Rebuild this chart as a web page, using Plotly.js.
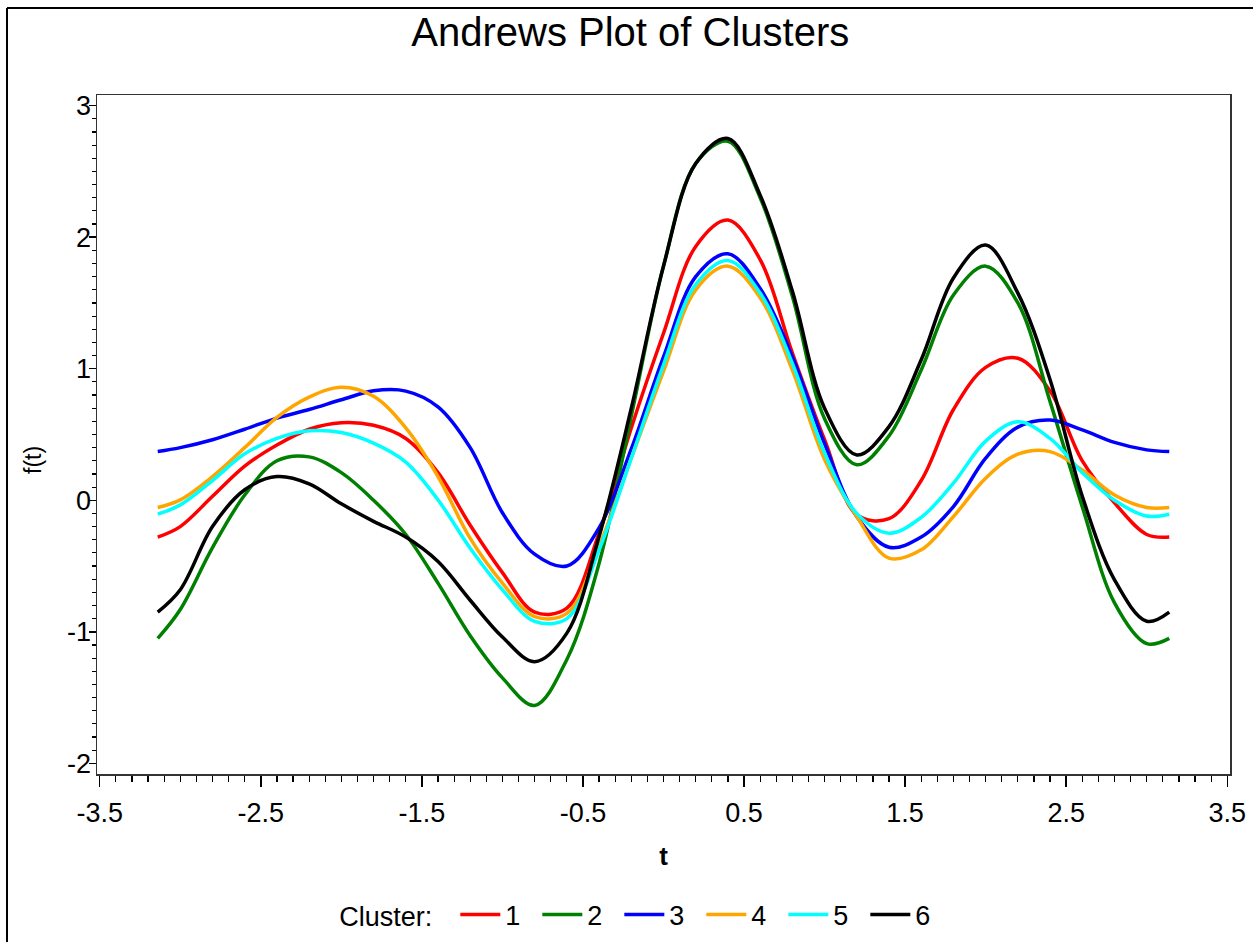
<!DOCTYPE html>
<html>
<head>
<meta charset="utf-8">
<script src="https://cdn.plot.ly/plotly-3.0.1.min.js"></script>
<style>
  html, body { margin: 0; padding: 0; background: #ffffff; }
  #chart { width: 1253px; height: 942px; }
</style>
</head>
<body>
<div id="chart"></div>
<script>
// ---- data ----
const tValues = [-3.14, -3.0, -2.8, -2.6, -2.4, -2.2, -2.0, -1.8, -1.6, -1.4, -1.2, -1.0, -0.8, -0.6, -0.4, -0.2,
                 0.0, 0.2, 0.4, 0.6, 0.8, 1.0, 1.2, 1.4, 1.6, 1.8, 2.0, 2.2, 2.4, 2.6, 2.8, 3.0, 3.14];

const cluster1 = [-0.28, -0.20, 0.03, 0.26, 0.42, 0.54, 0.59, 0.57, 0.47, 0.21, -0.19, -0.55, -0.85, -0.82, -0.25, 0.55,
                  1.27, 1.93, 2.13, 1.83, 1.12, 0.46, -0.11, -0.14, 0.15, 0.69, 1.01, 1.08, 0.83, 0.30, -0.02, -0.26, -0.28];
const cluster2 = [-1.05, -0.83, -0.36, 0.04, 0.30, 0.33, 0.21, 0.00, -0.26, -0.63, -1.03, -1.35, -1.56, -1.21, -0.48, 0.64,
                  1.78, 2.56, 2.73, 2.30, 1.55, 0.62, 0.27, 0.49, 0.99, 1.56, 1.78, 1.50, 0.75, -0.05, -0.78, -1.09, -1.05];
const cluster3 = [0.37, 0.40, 0.46, 0.54, 0.625, 0.69, 0.764, 0.832, 0.83, 0.71, 0.40, -0.095, -0.41, -0.50, -0.21, 0.39,
                  1.09, 1.70, 1.874, 1.61, 1.09, 0.43, -0.124, -0.357, -0.28, -0.048, 0.32, 0.556, 0.61, 0.535, 0.44, 0.383, 0.37];
const cluster4 = [-0.055, 0.003, 0.18, 0.40, 0.63, 0.784, 0.86, 0.79, 0.55, 0.18, -0.29, -0.63, -0.885, -0.86, -0.35, 0.32,
                  0.98, 1.60, 1.78, 1.54, 0.99, 0.31, -0.124, -0.44, -0.377, -0.124, 0.168, 0.35, 0.37, 0.23, 0.04, -0.055, -0.055];
const cluster5 = [-0.106, -0.035, 0.15, 0.353, 0.47, 0.528, 0.515, 0.434, 0.29, 0.003, -0.365, -0.68, -0.92, -0.90, -0.377, 0.32,
                  1.03, 1.64, 1.823, 1.575, 1.04, 0.36, -0.10, -0.25, -0.13, 0.13, 0.45, 0.596, 0.47, 0.21, 0.0, -0.12, -0.106];
const cluster6 = [-0.85, -0.68, -0.20, 0.08, 0.18, 0.125, -0.027, -0.16, -0.28, -0.466, -0.76, -1.04, -1.227, -1.01, -0.276, 0.70,
                  1.78, 2.56, 2.75, 2.32, 1.59, 0.70, 0.345, 0.56, 1.068, 1.69, 1.94, 1.575, 0.916, 0.03, -0.605, -0.92, -0.85];

const clusterNames = ["1", "2", "3", "4", "5", "6"];
const clusterColors = ["#FF0000", "#008000", "#0000FF", "#FFA500", "#00FFFF", "#000000"];
const clusterSeries = [cluster1, cluster2, cluster3, cluster4, cluster5, cluster6];

const xTickVals = [-3.5, -2.5, -1.5, -0.5, 0.5, 1.5, 2.5, 3.5];
const xTickText = ["-3.5", "-2.5", "-1.5", "-0.5", "0.5", "1.5", "2.5", "3.5"];
const yTickVals = [-2, -1, 0, 1, 2, 3];
const yTickText = ["-2", "-1", "0", "1", "2", "3"];

// ---- chart ----
const FONT = "Liberation Sans, Arial, sans-serif";

const traces = clusterSeries.map((ys, i) => ({
  type: "scatter",
  mode: "lines",
  x: tValues,
  y: ys,
  name: clusterNames[i],
  line: { color: clusterColors[i], width: 3.5, shape: "spline", smoothing: 1.0 }
}));

const W = 1253, H = 942;
const M = { l: 97, r: 23, t: 95, b: 168 };
const plotW = W - M.l - M.r, plotH = H - M.t - M.b;

const layout = {
  width: W, height: H,
  margin: M,
  paper_bgcolor: "#ffffff",
  plot_bgcolor: "#ffffff",
  font: { family: FONT, color: "#000000", size: 27 },
  showlegend: true,
  title: {
    text: "Andrews Plot of Clusters",
    font: { family: FONT, size: 40, color: "#000000" },
    xref: "container", x: 0.503, xanchor: "center",
    yref: "container", y: 1 - 32 / H, yanchor: "middle"
  },
  xaxis: {
    range: [-3.517, 3.517],
    tickmode: "array", tickvals: xTickVals, ticktext: xTickText,
    ticks: "outside", ticklen: 11, tickwidth: 1.5, tickcolor: "#000000",
    minor: { dtick: 0.1, tick0: -3.5, ticks: "outside", ticklen: 6, tickwidth: 1.2, tickcolor: "#000000", showgrid: false },
    ticklabelstandoff: 3,
    showgrid: false, zeroline: false,
    showline: true, linecolor: "#333333", linewidth: 1.5, mirror: true,
    tickfont: { family: FONT, size: 27, color: "#000000" },
    title: { text: "<b>t</b>", font: { family: FONT, size: 26, color: "#000000" }, standoff: 20 }
  },
  yaxis: {
    range: [-2.081, 3.081],
    tickmode: "array", tickvals: yTickVals, ticktext: yTickText,
    ticks: "outside", ticklen: 7, tickwidth: 1.5, tickcolor: "#000000",
    minor: { dtick: 0.1, tick0: 0, ticks: "outside", ticklen: 4, tickwidth: 1.2, tickcolor: "#000000", showgrid: false },
    ticklabelstandoff: -8,
    showgrid: false, zeroline: false,
    showline: true, linecolor: "#333333", linewidth: 1.5, mirror: true,
    tickfont: { family: FONT, size: 27, color: "#000000" }
  },
  annotations: [
    { text: "f(t)", textangle: -90, showarrow: false,
      xref: "paper", x: (33 - M.l) / plotW, xanchor: "center",
      yref: "paper", y: (H - M.b - 460) / plotH, yanchor: "middle",
      font: { family: FONT, size: 23, color: "#000000" } }
  ],
  legend: {
    orientation: "h",
    xref: "container", x: 0.513, xanchor: "center",
    yref: "container", y: (H - 915) / H, yanchor: "middle",
    title: { text: "Cluster:\u00a0\u00a0", side: "left", font: { family: FONT, size: 27, color: "#000000" } },
    font: { family: FONT, size: 27, color: "#000000" },
    itemwidth: 40,
    entrywidth: 27,
    entrywidthmode: "pixels",
    bgcolor: "rgba(0,0,0,0)"
  },
  shapes: [
    // outer frame (left and top edges visible in the picture)
    { type: "line", xref: "paper", yref: "paper",
      x0: (7 - M.l) / plotW, x1: (7 - M.l) / plotW, y0: -M.b / plotH, y1: 1 + (M.t - 8) / plotH,
      line: { color: "#000000", width: 2 } },
    { type: "line", xref: "paper", yref: "paper",
      x0: (7 - M.l) / plotW, x1: (W - M.l) / plotW, y0: 1 + (M.t - 8) / plotH, y1: 1 + (M.t - 8) / plotH,
      line: { color: "#000000", width: 2 } }
  ]
};

Plotly.newPlot("chart", traces, layout, { displayModeBar: false, staticPlot: true });
</script>
</body>
</html>
